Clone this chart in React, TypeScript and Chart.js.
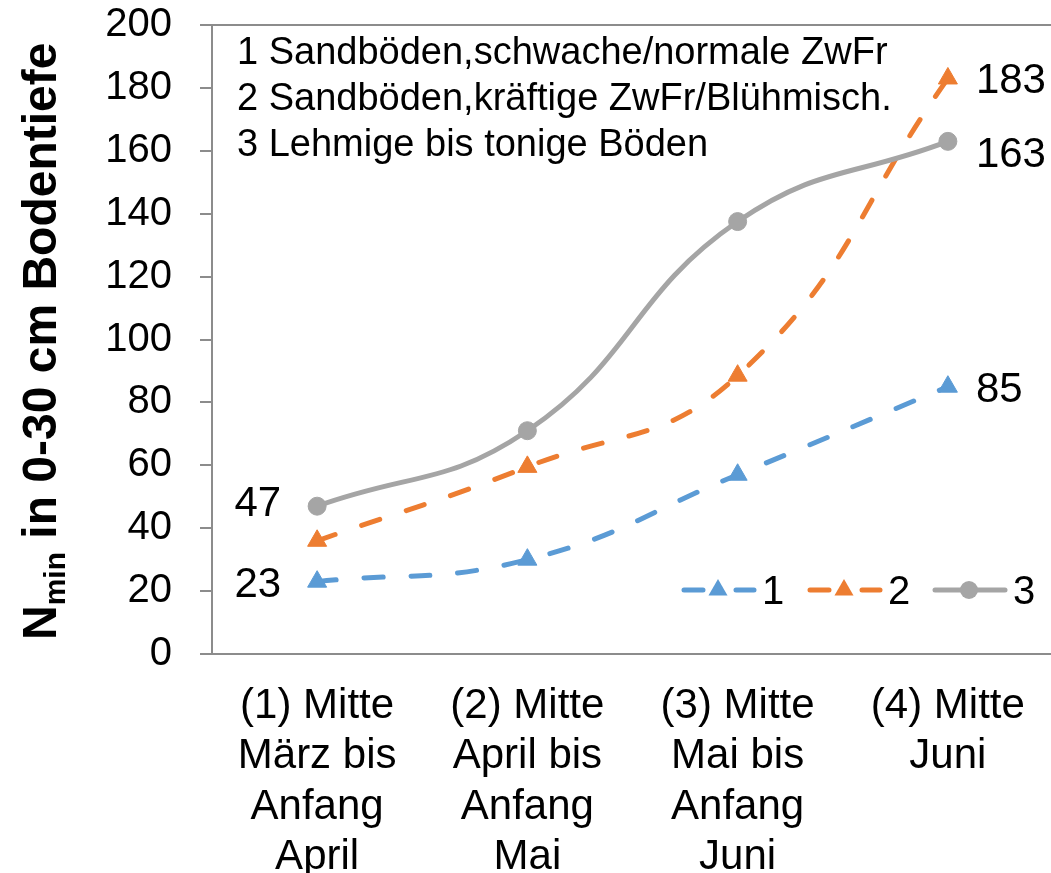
import React, { useEffect, useRef } from 'react';
import { Chart, registerables } from 'chart.js';

Chart.register(...registerables);

// ---- data ----
const categories: string[][] = [
  ['(1) Mitte', 'März bis', 'Anfang', 'April'],
  ['(2) Mitte', 'April bis', 'Anfang', 'Mai'],
  ['(3) Mitte', 'Mai bis', 'Anfang', 'Juni'],
  ['(4) Mitte', 'Juni'],
];
const seriesNames = ['1', '2', '3'];
const series1 = [23, 30, 57, 85];
const series2 = [36, 59.5, 88.5, 183];
const series3 = [47, 71, 137.5, 163];
const yTicks = [0, 20, 40, 60, 80, 100, 120, 140, 160, 180, 200];
const noteLines = [
  '1 Sandböden,schwache/normale ZwFr',
  '2 Sandböden,kräftige ZwFr/Blühmisch.',
  '3 Lehmige bis tonige Böden',
];
const titleMain = 'N';
const titleSub = 'min';
const titleRest = ' in 0-30 cm Bodentiefe';
// which points carry a value label: [datasetIndex, pointIndex, side]
const labelledPoints: [number, number, 'left' | 'right'][] = [
  [0, 0, 'left'],
  [0, 3, 'right'],
  [1, 3, 'right'],
  [2, 0, 'left'],
  [2, 3, 'right'],
];

const FONT = '"Liberation Sans", Arial, sans-serif';
const BLUE = '#5B9BD5';
const ORANGE = '#ED7D31';
const GRAY = '#A5A5A5';
const AXIS = '#8C8C8C';

const extrasPlugin = {
  id: 'extras',
  afterDraw(chart: any) {
    const ctx: CanvasRenderingContext2D = chart.ctx;
    const area = chart.chartArea;
    ctx.save();
    ctx.fillStyle = '#000';

    // y-axis title with subscript
    ctx.save();
    ctx.translate(56, 640);
    ctx.rotate(-Math.PI / 2);
    ctx.textAlign = 'left';
    ctx.textBaseline = 'alphabetic';
    ctx.font = `bold 48px ${FONT}`;
    ctx.fillText(titleMain, 0, 0);
    let tx = ctx.measureText(titleMain).width;
    ctx.font = `bold 30px ${FONT}`;
    ctx.fillText(titleSub, tx, 9);
    tx += ctx.measureText(titleSub).width;
    ctx.font = `bold 48px ${FONT}`;
    ctx.fillText(titleRest, tx, 0);
    ctx.restore();

    // note lines at top-left of plot
    ctx.font = `38px ${FONT}`;
    ctx.textAlign = 'left';
    ctx.textBaseline = 'alphabetic';
    noteLines.forEach((t, i) => {
      ctx.fillText(t, area.left + 25, 64 + i * 46);
    });

    // value labels
    ctx.font = `42px ${FONT}`;
    labelledPoints.forEach(([di, pi, side]) => {
      const meta = chart.getDatasetMeta(di);
      const el = meta.data[pi];
      const v = chart.data.datasets[di].data[pi];
      const text = String(Math.round(v));
      const dy = di === 2 && pi === 3 ? 26 : di === 2 && pi === 0 ? 10 : 15;
      if (side === 'right') {
        ctx.textAlign = 'left';
        ctx.fillText(text, el.x + 28, el.y + dy);
      } else {
        ctx.textAlign = 'right';
        ctx.fillText(text, el.x - 36, el.y + dy);
      }
    });

    // legend bottom-right inside plot
    const ly = 590;
    const starts = [682, 808, 933];
    chart.data.datasets.forEach((ds: any, i: number) => {
      const x0 = starts[i];
      ctx.save();
      ctx.strokeStyle = ds.borderColor;
      ctx.lineWidth = ds.borderWidth;
      ctx.lineCap = 'round';
      if (ds.borderDash && ds.borderDash.length) ctx.setLineDash([19, 33]);
      ctx.beginPath();
      ctx.moveTo(x0 + 2, ly);
      ctx.lineTo(x0 + 72, ly);
      ctx.stroke();
      ctx.restore();
      const cx = x0 + 36;
      ctx.fillStyle = ds.backgroundColor;
      ctx.beginPath();
      if (ds.pointStyle === 'triangle') {
        const r = ds.pointRadius;
        ctx.moveTo(cx, ly - r);
        ctx.lineTo(cx + r * 0.866, ly + r * 0.5);
        ctx.lineTo(cx - r * 0.866, ly + r * 0.5);
        ctx.closePath();
      } else {
        ctx.arc(cx, ly, ds.pointRadius, 0, Math.PI * 2);
      }
      ctx.fill();
      ctx.fillStyle = '#000';
      ctx.font = `40px ${FONT}`;
      ctx.textAlign = 'left';
      ctx.textBaseline = 'alphabetic';
      ctx.fillText(ds.label, x0 + 80, ly + 14);
    });
    ctx.restore();
  },
};

export default function App() {
  const ref = useRef<HTMLCanvasElement>(null);
  useEffect(() => {
    const canvas = ref.current!;
    const chart = new Chart(canvas, {
      type: 'line',
      data: {
        labels: categories,
        datasets: [
          {
            label: seriesNames[0],
            data: series1,
            borderColor: BLUE,
            backgroundColor: BLUE,
            borderWidth: 5,
            borderDash: [19, 28],
            borderCapStyle: 'round',
            pointStyle: 'triangle',
            pointRadius: 11,
            pointBorderWidth: 1,
            pointBorderColor: BLUE,
            pointBackgroundColor: BLUE,
            tension: 0.45,
            order: 2,
          },
          {
            label: seriesNames[1],
            data: series2,
            borderColor: ORANGE,
            backgroundColor: ORANGE,
            borderWidth: 5,
            borderDash: [19, 28],
            borderCapStyle: 'round',
            pointStyle: 'triangle',
            pointRadius: 11,
            pointBorderWidth: 1,
            pointBorderColor: ORANGE,
            pointBackgroundColor: ORANGE,
            tension: 0.45,
            order: 1,
          },
          {
            label: seriesNames[2],
            data: series3,
            borderColor: GRAY,
            backgroundColor: GRAY,
            borderWidth: 5,
            borderCapStyle: 'round',
            pointStyle: 'circle',
            pointRadius: 9,
            pointBorderWidth: 1,
            pointBorderColor: GRAY,
            pointBackgroundColor: GRAY,
            tension: 0.45,
            order: 0,
          },
        ],
      },
      options: {
        responsive: false,
        animation: false,
        devicePixelRatio: 1,
        layout: { padding: { top: 25, right: 3, left: 0, bottom: 0 } },
        plugins: {
          legend: { display: false },
          tooltip: { enabled: false },
          title: { display: false },
        },
        scales: {
          x: {
            type: 'category',
            offset: true,
            grid: {
              display: true,
              drawOnChartArea: false,
              drawTicks: false,
              color: 'rgba(0,0,0,0)',
            },
            border: { display: true, color: AXIS, width: 2 },
            ticks: {
              autoSkip: false,
              maxRotation: 0,
              minRotation: 0,
              padding: 27,
              color: '#000',
              font: { family: FONT, size: 42, lineHeight: 1.2 },
            },
            afterFit(scale: any) {
              scale.height = 219;
              scale.paddingLeft = 0;
              scale.paddingRight = 0;
            },
          },
          y: {
            type: 'linear',
            min: 0,
            max: 200,
            afterBuildTicks(scale: any) {
              scale.ticks = yTicks.map((v) => ({ value: v }));
            },
            grid: {
              color: (c: any) => (c.tick && c.tick.value === 200 ? AXIS : 'rgba(0,0,0,0)'),
              tickColor: AXIS,
              lineWidth: 2,
              drawTicks: true,
              tickLength: 12,
            },
            border: { display: true, color: AXIS, width: 2 },
            ticks: {
              padding: 28,
              color: '#000',
              font: { family: FONT, size: 40 },
            },
            afterFit(scale: any) {
              scale.width = 212;
              scale.paddingTop = 0;
              scale.paddingBottom = 0;
            },
          },
        },
      },
      plugins: [extrasPlugin],
    } as any);
    return () => chart.destroy();
  }, []);
  return (
    <div
      style={{
        position: 'absolute',
        left: 0,
        top: 0,
        width: 1051,
        height: 873,
        overflow: 'hidden',
        background: '#fff',
      }}
    >
      <canvas ref={ref} width={1065} height={873} style={{ display: 'block', width: 1065, height: 873 }} />
    </div>
  );
}
